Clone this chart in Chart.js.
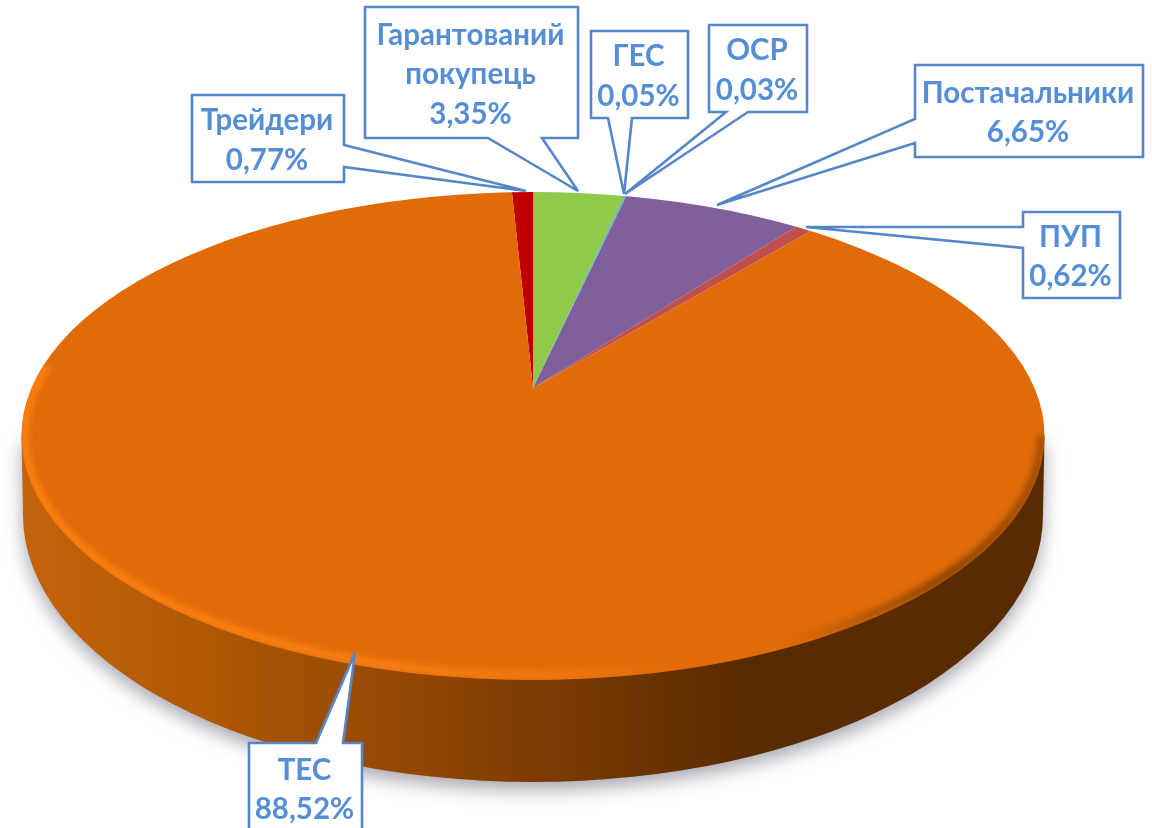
<!DOCTYPE html>
<html lang="uk"><head><meta charset="utf-8">
<style>html,body{margin:0;padding:0;background:#fff}canvas{display:block}</style>
<script src="https://cdn.jsdelivr.net/npm/chart.js@4"></script></head>
<body><canvas id="c" width="1152" height="828"></canvas>
<script>
const categories = ['Трейдери','Гарантований покупець','ГЕС','ОСР','Постачальники','ПУП','ТЕС'];
const shareValues = [0.77,3.35,0.05,0.03,6.65,0.62,88.52];
const sliceColors = ['#C00000','#8FCB4B','#4BACC6','#4BACC6','#7F609B','#C0504D','#E06B08'];
const labelLines = [['Трейдери'],['Гарантований','покупець'],['ГЕС'],['ОСР'],['Постачальники'],['ПУП'],['ТЕС']];

// callout layout: box [x0,y0,x1,y1] and pointer (base points + tip)
const callouts = [
  {box:[192,95,344,182], side:'r', base:[145,167], tip:[526,191]},
  {box:[365,7,578,138], side:'b', base:[488,542], tip:[578,191]},
  {box:[591,31,688,118], side:'b', base:[608,632], tip:[624,194]},
  {box:[709,25,807,112], side:'b', base:[726,748], tip:[625,194]},
  {box:[915,65,1143,157], side:'l', base:[119,143], tip:[717,205]},
  {box:[1023,212,1120,298], side:'l', base:[227,248], tip:[806,227]},
  {box:[249,743,362,833], side:'t', base:[316,343], tip:[355,653]}
];
const FACE = {cx:533, cy:436, rx:511.5, ry:244};
const FLOOR = {cx:533, cy:515, rx:510, ry:267};
const APEX = {x:533, y:388};
const TILT = 0.45, ZOOM = 1.7;
const FONT = 'bold 29.5px Lato, "Open Sans", "Noto Sans", sans-serif';

const pct = v => v.toFixed(2).replace('.',',') + '%';

const pie3d = {
  id:'pie3d',
  beforeDatasetsDraw(chart){
    const ctx = chart.ctx;
    const arc = chart.getDatasetMeta(0).data[0];
    // side wall
    ctx.save();
    ctx.beginPath();
    ctx.moveTo(FACE.cx-FACE.rx, FACE.cy);
    ctx.lineTo(FLOOR.cx-FLOOR.rx, FLOOR.cy);
    ctx.ellipse(FLOOR.cx,FLOOR.cy,FLOOR.rx,FLOOR.ry,0,Math.PI,0,true);
    ctx.lineTo(FACE.cx+FACE.rx, FACE.cy);
    ctx.closePath();
    const g = ctx.createLinearGradient(FACE.cx-FACE.rx,0,FACE.cx+FACE.rx,0);
    g.addColorStop(0,'#C4630B');
    g.addColorStop(0.18,'#B05805');
    g.addColorStop(0.32,'#9A4C04');
    g.addColorStop(0.46,'#863F03');
    g.addColorStop(0.585,'#6E3502');
    g.addColorStop(0.71,'#592B00');
    g.addColorStop(1,'#592B00');
    ctx.fillStyle = g;
    ctx.shadowColor = 'rgba(80,80,100,0.5)';
    ctx.shadowBlur = 18;
    ctx.shadowOffsetY = 8;
    ctx.fill();
    ctx.restore();
    // top face: clip to the rim, project the library's arcs onto it
    ctx.save();
    ctx.beginPath();
    ctx.ellipse(FACE.cx,FACE.cy,FACE.rx,FACE.ry,0,0,Math.PI*2);
    ctx.clip();
    ctx.translate(APEX.x,APEX.y);
    ctx.scale(ZOOM,ZOOM*TILT);
    ctx.translate(-arc.x,-arc.y);
  },
  afterDatasetsDraw(chart){
    const ctx = chart.ctx;
    ctx.restore();
    // bevel
    ctx.save();
    ctx.beginPath();
    ctx.ellipse(FACE.cx,FACE.cy,FACE.rx,FACE.ry,0,0,Math.PI*2);
    ctx.clip();
    ctx.filter = 'blur(3px)';
    const h = ctx.createLinearGradient(FACE.cx-FACE.rx,0,FACE.cx+FACE.rx,0);
    h.addColorStop(0,'rgba(255,130,18,1)');
    h.addColorStop(0.35,'rgba(255,132,24,0.9)');
    h.addColorStop(0.55,'rgba(255,130,20,0.5)');
    h.addColorStop(0.68,'rgba(230,110,10,0)');
    h.addColorStop(0.75,'rgba(90,44,0,0)');
    h.addColorStop(0.9,'rgba(90,44,0,0.7)');
    h.addColorStop(1,'rgba(90,44,0,0.5)');
    ctx.strokeStyle = h;
    ctx.lineWidth = 8;
    ctx.beginPath();
    ctx.ellipse(FACE.cx,FACE.cy,FACE.rx-3,FACE.ry-5,0,0,Math.PI+0.3);
    ctx.stroke();
    ctx.restore();
    // callouts
    ctx.save();
    ctx.font = FONT;
    ctx.textAlign = 'center';
    ctx.textBaseline = 'middle';
    callouts.forEach((c,i)=>{
      const [x0,y0,x1,y1] = c.box;
      ctx.beginPath();
      ctx.moveTo(x0,y0);
      if(c.side==='t'){ctx.lineTo(c.base[0],y0);ctx.lineTo(c.tip[0],c.tip[1]);ctx.lineTo(c.base[1],y0);}
      ctx.lineTo(x1,y0);
      if(c.side==='r'){ctx.lineTo(x1,c.base[0]);ctx.lineTo(c.tip[0],c.tip[1]);ctx.lineTo(x1,c.base[1]);}
      ctx.lineTo(x1,y1);
      if(c.side==='b'){ctx.lineTo(c.base[1],y1);ctx.lineTo(c.tip[0],c.tip[1]);ctx.lineTo(c.base[0],y1);}
      ctx.lineTo(x0,y1);
      if(c.side==='l'){ctx.lineTo(x0,c.base[1]);ctx.lineTo(c.tip[0],c.tip[1]);ctx.lineTo(x0,c.base[0]);}
      ctx.closePath();
      ctx.fillStyle = '#fff';
      ctx.fill();
      ctx.lineWidth = 2.6;
      ctx.strokeStyle = '#5587C8';
      ctx.lineJoin = 'miter';
      ctx.miterLimit = 4;
      ctx.stroke();
      const lines = labelLines[i].concat(pct(shareValues[i]));
      const lh = 39.5, mid = (y0+y1)/2+2, xm = (x0+x1)/2-1;
      ctx.fillStyle = '#558ED5';
      lines.forEach((t,k)=>{
        const y = mid+(k-(lines.length-1)/2)*lh;
        ctx.fillText(t,xm,y);
      });
    });
    ctx.restore();
  }
};

new Chart(document.getElementById('c'),{
  type:'pie',
  data:{labels:categories,datasets:[{data:shareValues,backgroundColor:sliceColors,borderWidth:0,clip:false,hoverOffset:0}]},
  options:{
    responsive:false,animation:false,
    rotation:-shareValues[0]/shareValues.reduce((a,b)=>a+b,0)*360,
    layout:{padding:0},
    events:[],
    plugins:{legend:{display:false},tooltip:{enabled:false},title:{display:false}}
  },
  plugins:[pie3d]
});
</script></body></html>
